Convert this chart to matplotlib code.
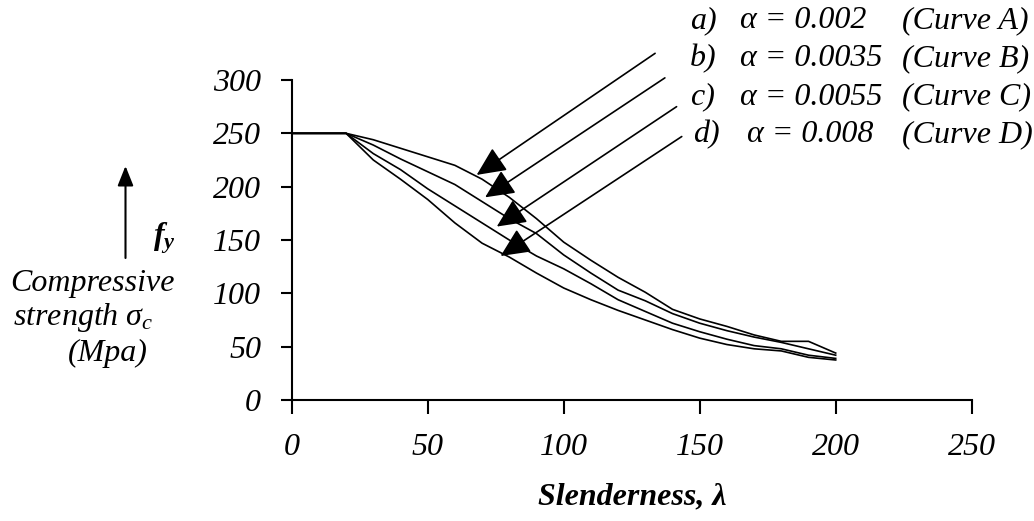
import numpy as np
import matplotlib
matplotlib.use("Agg")
import matplotlib.pyplot as plt

# ========== Data ==========
slenderness = [0, 10, 20, 30, 40, 50, 60, 70, 80, 90, 100,
               110, 120, 130, 140, 150, 160, 170, 180, 190, 200]

curve_a = [250, 250, 250, 244, 236, 228, 220, 207, 190, 170, 148,
           131, 115, 101, 85, 76, 69, 61, 55, 55, 44]
curve_b = [250, 250, 250, 239, 226, 214, 202, 186, 170, 156, 136,
           119, 103, 93, 81, 72, 65, 59, 54, 48, 42]
curve_c = [250, 250, 250, 231, 216, 198, 182, 166, 150, 135, 123,
           109, 94, 83, 72, 64, 57, 51, 48, 42, 39]
curve_d = [250, 250, 250, 225, 207, 188, 166, 147, 134, 119, 105,
           94, 84, 75, 66, 58, 52, 48, 46, 40, 37.5]

row_tags = ["a)", "b)", "c)", "d)"]
alpha_values = ["0.002", "0.0035", "0.0055", "0.008"]
curve_names = ["A", "B", "C", "D"]

# arrow tips sit on the curves, tails near the labels (data units)
arrow_tips = [(68, 211), (71.1, 190), (75.4, 162.6), (76.8, 135)]
arrow_tails = [(133.6, 325), (137.2, 302), (141.5, 275), (143.4, 247)]

x_ticks = [0, 50, 100, 150, 200, 250]
y_ticks = [0, 50, 100, 150, 200, 250, 300]

# ========== Style ==========
W, H = 1034, 521
plt.rcParams["font.family"] = ["Liberation Serif", "DejaVu Serif"]
plt.rcParams["mathtext.fontset"] = "custom"
plt.rcParams["mathtext.rm"] = "Liberation Serif"
plt.rcParams["mathtext.it"] = "Liberation Serif:italic"
plt.rcParams["mathtext.bf"] = "Liberation Serif:bold:italic"
FS = 23


def fx(px):
    return px / W


def fy(py):
    return 1 - py / H


fig = plt.figure(figsize=(W / 100, H / 100), dpi=100)
ax = fig.add_axes([fx(291.7), fy(400), fx(971.7) - fx(291.7), fy(80) - fy(400)])

for ys in (curve_a, curve_b, curve_c, curve_d):
    ax.plot(slenderness, ys, color="black", lw=1.2)

for tip, tail in zip(arrow_tips, arrow_tails):
    ax.annotate("", xy=tip, xytext=tail, annotation_clip=False,
                arrowprops=dict(arrowstyle="-|>,head_length=0.75,head_width=0.35",
                                mutation_scale=24, color="black", lw=1.2,
                                shrinkA=0, shrinkB=0))

ax.set_xlim(0, 250)
ax.set_ylim(0, 300)
ax.set_xticks(x_ticks)
ax.set_yticks(y_ticks)
ax.set_xticklabels([str(v) for v in x_ticks], fontsize=FS, style="italic")
ax.set_yticklabels([str(v) for v in y_ticks], fontsize=FS, style="italic")
ax.tick_params(axis="x", direction="out", length=10, width=1.5, pad=14)
ax.tick_params(axis="y", direction="out", length=8, width=1.5, pad=14)
for side in ("top", "right"):
    ax.spines[side].set_visible(False)
for side in ("left", "bottom"):
    ax.spines[side].set_linewidth(1.5)

# x label
fig.text(fx(632), fy(497), "Slenderness, λ", fontsize=FS, style="italic",
         fontweight="bold", ha="center", va="center")

# y label block with the upward arrow
fig.text(fx(175), fy(284), "Compressive", fontsize=FS, style="italic",
         ha="right", va="center")
fig.text(fx(153), fy(317), r"strength $\sigma_c$", fontsize=FS, style="italic",
         ha="right", va="center")
fig.text(fx(148), fy(353), "(Mpa)", fontsize=FS, style="italic",
         ha="right", va="center")
fig.text(fx(153), fy(238), r"$\mathbf{f_y}$", fontsize=FS, ha="left", va="center")
ax_arrow = fig.add_axes([0, 0, 1, 1], facecolor="none")
ax_arrow.set_axis_off()
ax_arrow.set_xlim(0, W)
ax_arrow.set_ylim(H, 0)
ax_arrow.annotate("", xy=(125.5, 166), xytext=(125.5, 258),
                  arrowprops=dict(arrowstyle="-|>,head_length=0.5,head_width=0.2",
                                  mutation_scale=24, color="black", lw=1.5,
                                  shrinkA=0, shrinkB=0))

# curve key at top right
row_y = [21, 59, 97, 135]
for i, y in enumerate(row_y):
    tag_x = 690 if i < 3 else 693
    alpha_x = 740 if i < 3 else 747
    fig.text(fx(tag_x), fy(y), row_tags[i], fontsize=FS, style="italic",
             ha="left", va="center")
    fig.text(fx(alpha_x), fy(y), "α = " + alpha_values[i], fontsize=FS,
             style="italic", ha="left", va="center")
    fig.text(fx(902), fy(y), "(Curve " + curve_names[i] + ")", fontsize=FS,
             style="italic", ha="left", va="center")

fig.savefig("out.png", dpi=100)
